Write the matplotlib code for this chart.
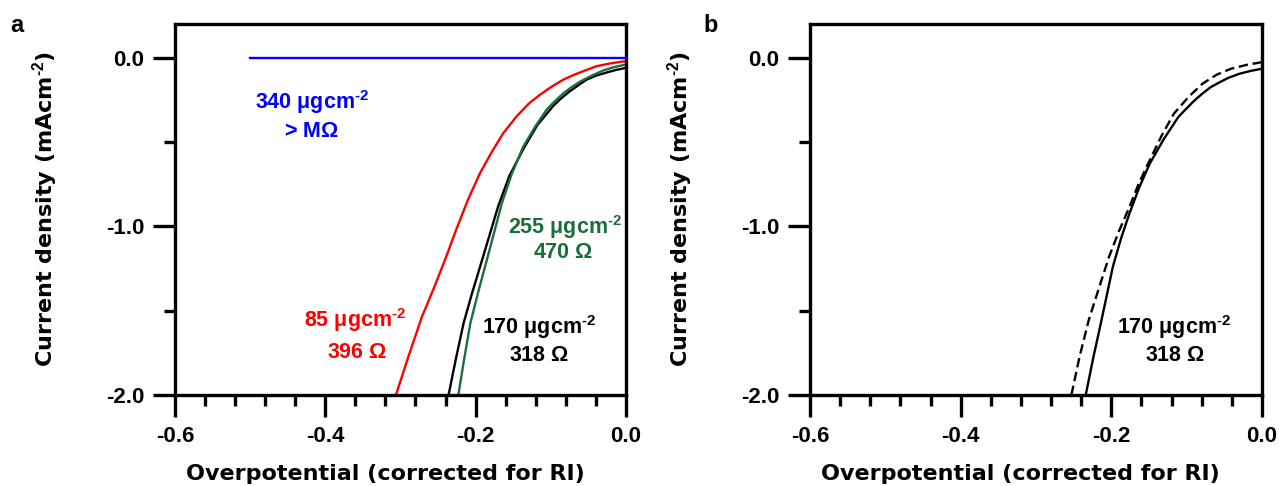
import numpy as np
import matplotlib.pyplot as plt
from matplotlib.ticker import MultipleLocator

plt.rcParams['font.family'] = ['Liberation Sans', 'DejaVu Sans']
plt.rcParams['font.weight'] = 'bold'
plt.rcParams['axes.unicode_minus'] = False
plt.rcParams['mathtext.fontset'] = 'custom'
plt.rcParams['mathtext.rm'] = 'Liberation Sans'
plt.rcParams['mathtext.bf'] = 'Liberation Sans:bold'

# panel a: loading curves (overpotential V, current density mA/cm2)
blue_x = [-0.5, 0.0]
blue_y = [0.0, 0.0]

red_x = [-0.306, -0.290, -0.271, -0.268, -0.255, -0.240, -0.225, -0.210, -0.194,
         -0.178, -0.163, -0.145, -0.128, -0.115, -0.105, -0.094, -0.083, -0.070,
         -0.060, -0.048, -0.039, -0.020, 0.0]
red_y = [-2.0, -1.78, -1.53, -1.50, -1.36, -1.19, -1.01, -0.84, -0.683,
         -0.555, -0.446, -0.345, -0.267, -0.222, -0.190, -0.158, -0.129, -0.103,
         -0.085, -0.065, -0.050, -0.033, -0.020]

black_x = [-0.236, -0.226, -0.216, -0.205, -0.194, -0.182, -0.170, -0.155, -0.137,
           -0.118, -0.097, -0.086, -0.075, -0.063, -0.052, -0.039, -0.026, -0.013, 0.0]
black_y = [-2.0, -1.78, -1.574, -1.40, -1.238, -1.06, -0.881, -0.70, -0.545,
           -0.40, -0.287, -0.240, -0.200, -0.162, -0.129, -0.105, -0.088, -0.072, -0.060]

green_x = [-0.223, -0.215, -0.207, -0.196, -0.185, -0.175, -0.165, -0.152, -0.137,
           -0.121, -0.105, -0.094, -0.083, -0.072, -0.061, -0.045, -0.030, -0.015, 0.0]
green_y = [-2.0, -1.78, -1.574, -1.38, -1.198, -1.03, -0.861, -0.69, -0.53,
           -0.41, -0.305, -0.255, -0.21, -0.173, -0.142, -0.105, -0.075, -0.055, -0.040]

# panel b: 170 ugcm-2 solid vs dashed
solid_x = [-0.234, -0.224, -0.214, -0.198, -0.187, -0.176, -0.163, -0.149, -0.130,
           -0.111, -0.100, -0.090, -0.079, -0.068, -0.056, -0.045, -0.030, -0.015, 0.0]
solid_y = [-2.0, -1.78, -1.576, -1.24, -1.07, -0.924, -0.77, -0.628, -0.48,
           -0.351, -0.300, -0.255, -0.212, -0.174, -0.145, -0.120, -0.095, -0.078, -0.065]

dash_x = [-0.253, -0.242, -0.230, -0.216, -0.203, -0.190, -0.176, -0.163, -0.149,
          -0.133, -0.117, -0.098, -0.079, -0.060, -0.041, -0.020, 0.0]
dash_y = [-2.0, -1.77, -1.556, -1.36, -1.18, -1.03, -0.885, -0.74, -0.608,
          -0.46, -0.332, -0.235, -0.154, -0.100, -0.065, -0.042, -0.026]

GREEN = '#1b6e3c'
xlab = 'Overpotential (corrected for RI)'
ylab = r'Current density (mAcm$^{\text{-2}}$)'
lab_font = dict(fontsize=16, fontweight='bold', family=['DejaVu Sans'])

fig = plt.figure(figsize=(12.79, 4.86), dpi=100)
ax1 = fig.add_axes([0.1368, 0.1872, 0.3526, 0.7634])
ax2 = fig.add_axes([0.6333, 0.1872, 0.3534, 0.7634])


def style(ax):
    ax.set_xlim(-0.6, 0.0)
    ax.set_ylim(-2.0, 0.2)
    ax.set_xticks([-0.6, -0.4, -0.2, 0.0])
    ax.set_xticklabels(['-0.6', '-0.4', '-0.2', '0.0'])
    ax.set_yticks([-2.0, -1.0, 0.0])
    ax.set_yticklabels(['-2.0', '-1.0', '0.0'])
    ax.xaxis.set_minor_locator(MultipleLocator(0.04))
    ax.set_yticks([-1.5, -0.5], minor=True)
    for s in ax.spines.values():
        s.set_linewidth(2.4)
    ax.tick_params(which='major', direction='out', length=16, width=2.4,
                   labelsize=16, pad=6)
    ax.tick_params(which='minor', direction='out', length=8, width=2.4)
    ax.tick_params(top=False, right=False, which='both')
    ax.set_xlabel(xlab, va='center', **lab_font)
    ax.set_ylabel(ylab, **lab_font)
    # label positions (axes fraction)
    ax.xaxis.set_label_coords(0.466, -0.213)
    ax.yaxis.set_label_coords(-0.255, 0.5)


ax1.plot(blue_x, blue_y, color='#0000ff', lw=1.7, clip_on=False, zorder=3)
ax1.plot(red_x, red_y, color='#ff0000', lw=1.7)
ax1.plot(black_x, black_y, color='black', lw=1.7)
ax1.plot(green_x, green_y, color=GREEN, lw=1.7)
style(ax1)

mu = r'$\mathrm{μ}$gcm$^{\text{-2}}$'
om = r'$\mathrm{Ω}$'
tk = dict(fontsize=15.5, fontweight='bold', ha='center', va='center')
ax1.text(-0.418, -0.262, '340 ' + mu, color='#0000ff', **tk)
ax1.text(-0.418, -0.44, '> M' + om, color='#0000ff', **tk)
ax1.text(-0.081, -1.003, '255 ' + mu, color=GREEN, **tk)
ax1.text(-0.084, -1.157, '470 ' + om, color=GREEN, **tk)
ax1.text(-0.360, -1.555, '85 ' + mu, color='#ff0000', **tk)
ax1.text(-0.358, -1.745, '396 ' + om, color='#ff0000', **tk)
ax1.text(-0.116, -1.596, '170 ' + mu, color='black', **tk)
ax1.text(-0.116, -1.763, '318 ' + om, color='black', **tk)

ax2.plot(solid_x, solid_y, color='black', lw=1.7)
ax2.plot(dash_x, dash_y, color='black', lw=1.7, ls=(0, (4, 2)))
style(ax2)
ax2.text(-0.117, -1.596, '170 ' + mu, color='black', **tk)
ax2.text(-0.115, -1.763, '318 ' + om, color='black', **tk)

fig.text(16.5 / 1279, 1 - 25 / 486, 'a', fontsize=17, fontweight='bold', ha='center', va='center')
fig.text(711 / 1279, 1 - 25 / 486, 'b', fontsize=17, fontweight='bold', ha='center', va='center')

fig.savefig('out.png', dpi=100)
